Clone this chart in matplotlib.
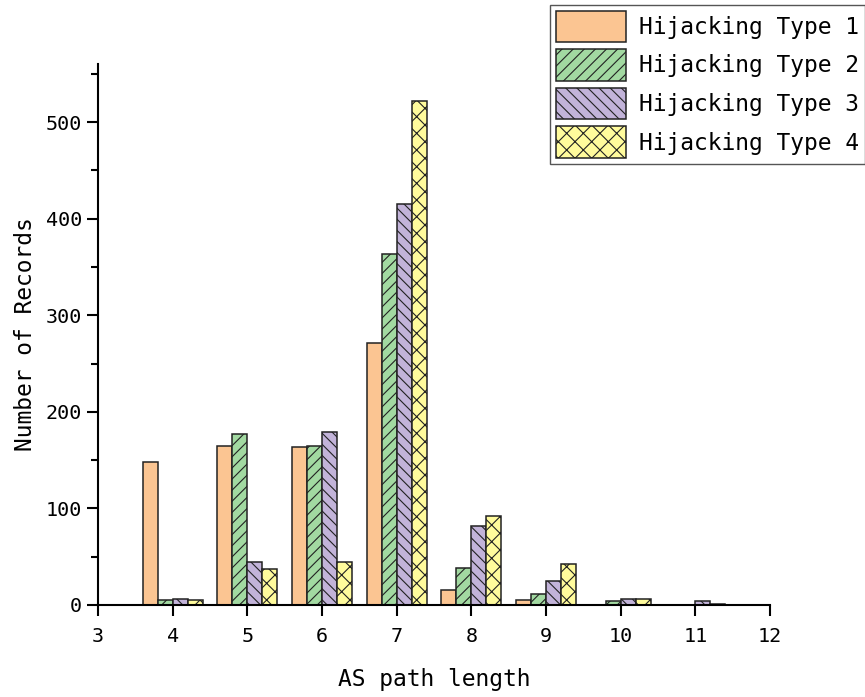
import numpy as np
import matplotlib.pyplot as plt
from matplotlib.ticker import MultipleLocator

plt.rcParams['font.family'] = 'DejaVu Sans Mono'
plt.rcParams['hatch.linewidth'] = 0.8
plt.rcParams['hatch.color'] = '#333333'

path_len = np.array([4, 5, 6, 7, 8, 9, 10, 11])
type1 = [148, 165, 164, 271, 16, 5, 0, 0]
type2 = [5, 177, 165, 363, 38, 11, 4, 0]
type3 = [6, 44, 179, 415, 82, 25, 6, 4]
type4 = [5, 37, 44, 522, 92, 42, 6, 1.5]

labels = ['Hijacking Type 1', 'Hijacking Type 2', 'Hijacking Type 3', 'Hijacking Type 4']
colors = ['#FBC592', '#A2D9A1', '#C2B3D9', '#FFFB9C']
hatches = ['', '///', '\\\\\\', 'xx']

fig = plt.figure(figsize=(8.65, 6.97), dpi=100)
ax = fig.add_axes([0.1133, 0.132, 0.7769, 0.776])

w = 0.2
offsets = [-0.3, -0.1, 0.1, 0.3]
for vals, off, c, h, lab in zip([type1, type2, type3, type4], offsets, colors, hatches, labels):
    ax.bar(path_len + off, vals, width=w, color=c, hatch=h, edgecolor='#222222',
           linewidth=1.1, label=lab)

ax.set_xlim(3, 12)
ax.set_ylim(0, 560)
ax.xaxis.set_major_locator(MultipleLocator(1))
ax.yaxis.set_major_locator(MultipleLocator(100))
ax.yaxis.set_minor_locator(MultipleLocator(50))
ax.spines['top'].set_visible(False)
ax.spines['right'].set_visible(False)
ax.spines['left'].set_linewidth(1.5)
ax.spines['bottom'].set_linewidth(1.5)
ax.tick_params(axis='both', which='major', length=8, width=1.5, labelsize=14.5)
ax.tick_params(axis='x', which='major', pad=8)
ax.tick_params(axis='y', which='minor', length=5, width=1.5)

ax.set_xlabel('AS path length', fontsize=16.5, labelpad=16)
ax.set_ylabel('Number of Records', fontsize=16.5, labelpad=6)

fig.legend(loc='upper right', bbox_to_anchor=(1.0, 0.993), fontsize=16.5,
           handlelength=3.05, handleheight=1.75, labelspacing=0.3,
           handletextpad=0.6, borderpad=0.25, borderaxespad=0,
           fancybox=False, edgecolor='#555555', framealpha=1)

fig.savefig('out.png', dpi=100)
